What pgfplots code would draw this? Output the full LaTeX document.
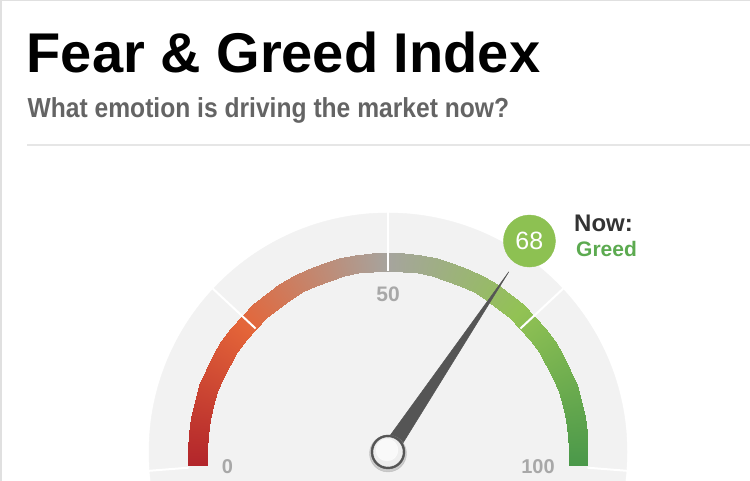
\documentclass[border=0pt]{standalone}
\usepackage{fontspec}
\setmainfont{Liberation Sans}
\usepackage{graphicx}
\usepackage{pgfplots}
\usepackage{pgfplotstable}
\pgfplotsset{compat=1.18}
\definecolor{diskgray}{HTML}{F2F2F2}
\definecolor{needlegray}{HTML}{555555}
\definecolor{badgegreen}{RGB}{141,193,82}
\definecolor{greedgreen}{RGB}{92,170,80}
\definecolor{subgray}{HTML}{646464}
\definecolor{labgray}{HTML}{A8A8A8}
\definecolor{rulegray}{HTML}{E6E6E6}
\definecolor{pivotfill}{HTML}{EEEEEE}
\pgfplotstableread[row sep=\\]{
v r\\
0 181\\ 2.5 181\\ 5 181\\ 7.5 181\\ 10 181\\ 12.5 181\\ 15 181\\ 17.5 181\\ 20 181\\ 22.5 181\\
25 181\\ 27.5 181\\ 30 181\\ 32.5 181\\ 35 181\\ 37.5 181\\ 40 181\\ 42.5 181\\ 45 181\\ 47.5 181\\
50 181\\ 52.5 181\\ 55 181\\ 57.5 181\\ 60 181\\ 62.5 181\\ 65 181\\ 67.5 181\\ 70 181\\ 72.5 181\\
75 181\\ 77.5 181\\ 80 181\\ 82.5 181\\ 85 181\\ 87.5 181\\ 90 181\\ 92.5 181\\ 95 181\\ 97.5 181\\
100 181\\
0 200\\ 2.5 200\\ 5 200\\ 7.5 200\\ 10 200\\ 12.5 200\\ 15 200\\ 17.5 200\\ 20 200\\ 22.5 200\\
25 200\\ 27.5 200\\ 30 200\\ 32.5 200\\ 35 200\\ 37.5 200\\ 40 200\\ 42.5 200\\ 45 200\\ 47.5 200\\
50 200\\ 52.5 200\\ 55 200\\ 57.5 200\\ 60 200\\ 62.5 200\\ 65 200\\ 67.5 200\\ 70 200\\ 72.5 200\\
75 200\\ 77.5 200\\ 80 200\\ 82.5 200\\ 85 200\\ 87.5 200\\ 90 200\\ 92.5 200\\ 95 200\\ 97.5 200\\
100 200\\
}\bandtable
\begin{document}
\begin{tikzpicture}
\useasboundingbox (0,0) rectangle (750pt,481pt);
\fill[white] (0,0) rectangle (750pt,481pt);
\begin{axis}[at={(0pt,0pt)}, anchor=south west, x=1pt, y=1pt, scale only axis,
  xmin=-388, xmax=362, ymin=-29, ymax=452, hide axis, clip marker paths=true,
  colormap={fg}{rgb255(0cm)=(178,37,43) rgb255(2.4cm)=(228,101,57) rgb255(5cm)=(166,164,158) rgb255(7.3cm)=(146,194,84) rgb255(10cm)=(74,152,74)},
  point meta min=0, point meta max=100]
% background disk
\addplot[only marks, mark=*, color=diskgray, mark size=239pt, forget plot] coordinates {(0,0)};
% coloured band
\addplot[surf, shader=interp, mesh/cols=41, point meta=explicit]
  table[x expr={\thisrow{r}*cos(184-1.88*\thisrow{v})}, y expr={\thisrow{r}*sin(184-1.88*\thisrow{v})}, meta=v] {\bandtable};
% separators
\addplot[white, line width=2pt, data cs=polar] coordinates {(137,181) (137,240)};
\addplot[white, line width=2pt, data cs=polar] coordinates {(90,181) (90,240)};
\addplot[white, line width=2pt, data cs=polar] coordinates {(43,181) (43,240)};
\addplot[white, line width=2pt, data cs=polar] coordinates {(184.5,200) (184.5,242)};
\addplot[white, line width=2pt, data cs=polar] coordinates {(-4.5,200) (-4.5,242)};
% needle (value 68)
\addplot[fill=needlegray, draw=needlegray, line width=0.5pt, data cs=polar] coordinates {(56.16,217) (146.16,8) (-33.84,8)} -- cycle;
% pivot
\addplot[only marks, mark=*, color=black!35, opacity=0.5, mark size=18.5pt] coordinates {(0,-1.5)};
\addplot[only marks, mark=*, color=needlegray, mark size=17pt] coordinates {(0,0)};
\addplot[only marks, mark=*, color=pivotfill, mark size=14.5pt] coordinates {(0,0)};
\addplot[only marks, mark=*, color=white, opacity=0.7, mark size=11pt] coordinates {(-1,2)};
% badge
\addplot[only marks, mark=*, color=badgegreen, mark size=26pt, data cs=polar] coordinates {(56.16,254)};
\node[text=white, inner sep=0, font=\fontsize{25}{25}\selectfont] at (axis cs:141.3,210.6) {68};
% labels
\node[text=labgray, inner sep=0, font=\fontsize{20}{20}\selectfont\bfseries] at (axis cs:-160.5,-14.5) {0};
\node[text=labgray, inner sep=0, font=\fontsize{21}{21}\selectfont\bfseries] at (axis cs:0,158) {50};
\node[text=labgray, inner sep=0, font=\fontsize{20}{20}\selectfont\bfseries] at (axis cs:150,-14.5) {100};
\end{axis}
% frame lines
\draw[draw=black!12, line width=1.5pt] (0.75pt,0) -- (0.75pt,480.25pt) -- (750pt,480.25pt);
\draw[draw=rulegray, line width=1.5pt] (27pt,336pt) -- (750pt,336pt);
% titles
\node[anchor=base west, inner sep=0, font=\fontsize{56}{60}\selectfont\bfseries] at (26.5pt,408pt) {Fear \& Greed Index};
\node[anchor=base west, inner sep=0, text=subgray, font=\fontsize{27.5}{29}\selectfont\bfseries] at (27.5pt,363pt) {\scalebox{0.895}[1]{What emotion is driving the market now?}};
\node[anchor=base west, inner sep=0, text=black!80, font=\fontsize{24}{25}\selectfont\bfseries] at (574pt,249pt) {Now:};
\node[anchor=base west, inner sep=0, text=greedgreen, font=\fontsize{21}{22}\selectfont\bfseries] at (576pt,224pt) {Greed};
\end{tikzpicture}
\end{document}
